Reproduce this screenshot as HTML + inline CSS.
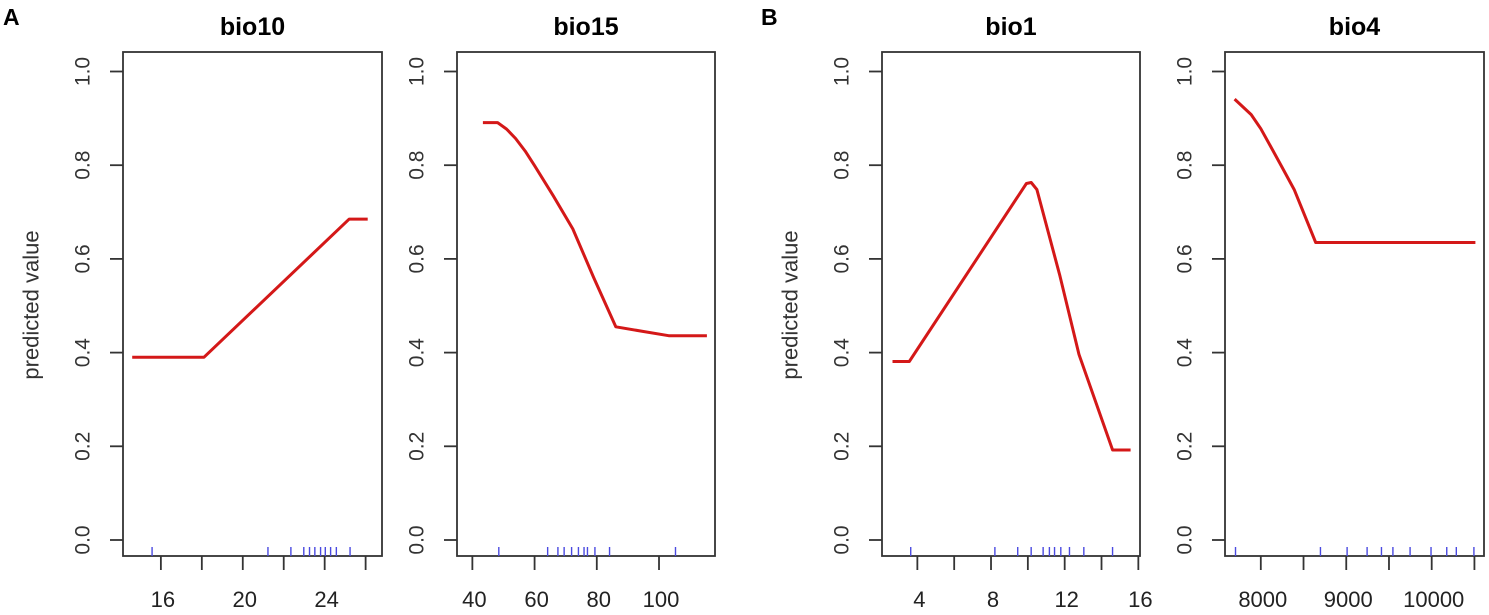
<!DOCTYPE html>
<html><head><meta charset="utf-8"><style>
body{margin:0;background:#fff;}
svg{display:block;font-family:"Liberation Sans",Arial,sans-serif;}
</style></head><body>
<svg id="chart" width="1489" height="615" viewBox="0 0 1489 615" xmlns="http://www.w3.org/2000/svg">
<text x="3" y="25" font-size="23" font-weight="bold" fill="#000">A</text>
<text x="761" y="25" font-size="23" font-weight="bold" fill="#000">B</text>
</svg>
<script>
// panel 1: bio10
const bio10X = [14.6, 18.1, 25.2, 26.1];
const bio10Y = [0.39, 0.39, 0.685, 0.685];
const bio10Rug = [15.57, 21.23, 22.35, 22.98, 23.26, 23.52, 23.8, 24.03, 24.29, 24.57, 25.24];
const bio10Ticks = [16, 18, 20, 22, 24, 26];
const bio10Labels = ["16", "", "20", "", "24", ""];
// panel 2: bio15
const bio15X = [43.4, 48.1, 51, 53.9, 57, 60, 66, 72.3, 79, 86.1, 95, 103.1, 115.4];
const bio15Y = [0.891, 0.891, 0.877, 0.857, 0.83, 0.799, 0.735, 0.664, 0.56, 0.455, 0.445, 0.436, 0.436];
const bio15Rug = [48.5, 64.2, 67.5, 69.5, 71.9, 74.1, 75.9, 77.0, 79.4, 84.1, 105.3];
const bio15Ticks = [40, 60, 80, 100];
const bio15Labels = ["40", "60", "80", "100"];
// panel 3: bio1
const bio1X = [2.65, 3.56, 9.92, 10.18, 10.49, 11.74, 12.78, 14.6, 15.58];
const bio1Y = [0.381, 0.381, 0.761, 0.763, 0.748, 0.564, 0.396, 0.192, 0.192];
const bio1Rug = [3.64, 8.21, 9.45, 10.18, 10.83, 11.17, 11.45, 11.79, 12.26, 13.04, 14.6];
const bio1Ticks = [4, 6, 8, 10, 12, 14, 16];
const bio1Labels = ["4", "", "8", "", "12", "", "16"];
// panel 4: bio4
const bio4X = [7693, 7888, 8000, 8112, 8250, 8391, 8642, 10511];
const bio4Y = [0.941, 0.908, 0.878, 0.841, 0.795, 0.748, 0.635, 0.635];
const bio4Rug = [7704, 8698, 9010, 9244, 9412, 9546, 9747, 9992, 10176, 10288, 10494];
const bio4Ticks = [8000, 8500, 9000, 9500, 10000, 10500];
const bio4Labels = ["8000", "", "9000", "", "10000", ""];
const yTicks = [0, 0.2, 0.4, 0.6, 0.8, 1.0];
const yLabels = ["0.0", "0.2", "0.4", "0.6", "0.8", "1.0"];

const svg = document.getElementById('chart');
const NS = 'http://www.w3.org/2000/svg';
function mk(tag, attrs, parent) {
  const e = document.createElementNS(NS, tag);
  for (const k in attrs) e.setAttribute(k, attrs[k]);
  (parent || svg).appendChild(e);
  return e;
}
const TOP = 52, BOT = 556, Y0 = 540, Y1 = 71.5;
function yS(v) { return Y0 + (Y1 - Y0) * v; }

const panels = [
  {name: 'bio10', L: 123, R: 382, d0: 14.15, d1: 26.8, xs: bio10X, ys: bio10Y, rug: bio10Rug, ticks: bio10Ticks, labels: bio10Labels, ylab: true},
  {name: 'bio15', L: 457, R: 715, d0: 35.06, d1: 118, xs: bio15X, ys: bio15Y, rug: bio15Rug, ticks: bio15Ticks, labels: bio15Labels, ylab: false},
  {name: 'bio1', L: 882, R: 1140, d0: 2.08, d1: 16.09, xs: bio1X, ys: bio1Y, rug: bio1Rug, ticks: bio1Ticks, labels: bio1Labels, ylab: true},
  {name: 'bio4', L: 1225, R: 1484, d0: 7581, d1: 10612, xs: bio4X, ys: bio4Y, rug: bio4Rug, ticks: bio4Ticks, labels: bio4Labels, ylab: false}
];

panels.forEach(p => {
  const g = mk('g', {});
  
  
  const xS = v => p.L + (v - p.d0) / (p.d1 - p.d0) * (p.R - p.L);
  const t = mk('text', {x: (p.L + p.R) / 2, y: 35, 'font-size': 25, 'font-weight': 'bold', 'text-anchor': 'middle'}, g);
  t.textContent = p.name;
  
  
  const box = mk('rect', {x: p.L, y: TOP, width: p.R - p.L, height: BOT - TOP, fill: 'none', stroke: '#333', 'stroke-width': 1.8}, g);
  
  
  yTicks.forEach((v, i) => {
    const y = yS(v);
    const tk = mk('line', {x1: p.L - 13, x2: p.L, y1: y, y2: y, stroke: '#333', 'stroke-width': 1.8}, g);
    
    
    const lx = p.L - 40;
    const lb = mk('text', {x: lx, y: y, 'font-size': 21, fill: '#333', 'text-anchor': 'middle', 'dominant-baseline': 'central', transform: `rotate(-90 ${lx} ${y})`}, g);
    lb.textContent = yLabels[i];
    
    
  });
  p.ticks.forEach((v, i) => {
    const x = xS(v);
    const tk = mk('line', {x1: x, x2: x, y1: BOT, y2: BOT + 14, stroke: '#333', 'stroke-width': 1.8}, g);
    
    
    if (p.labels[i]) {
      const lb = mk('text', {x: x + 2, y: 607, 'font-size': 22, fill: '#222', 'text-anchor': 'middle'}, g);
      lb.textContent = p.labels[i];
      
      
    }
  });
  if (p.ylab) {
    const lx = p.L - 92, ly = 305;
    const yl = mk('text', {x: lx, y: ly, 'font-size': 22, fill: '#333', 'text-anchor': 'middle', 'dominant-baseline': 'central', transform: `rotate(-90 ${lx} ${ly})`}, g);
    yl.textContent = 'predicted value';
    
    
  }
  p.rug.forEach(v => {
    const x = xS(v);
    const r = mk('line', {x1: x, x2: x, y1: BOT - 9, y2: BOT, stroke: '#4a4ae0', 'stroke-width': 1.4}, g);
    
    
  });
  const pts = p.xs.map((v, i) => xS(v).toFixed(1) + ',' + yS(p.ys[i]).toFixed(1)).join(' ');
  const ln = mk('polyline', {points: pts, fill: 'none', stroke: '#d41818', 'stroke-width': 3, 'stroke-linejoin': 'round'}, g);
  
  
});
</script>
</body></html>
